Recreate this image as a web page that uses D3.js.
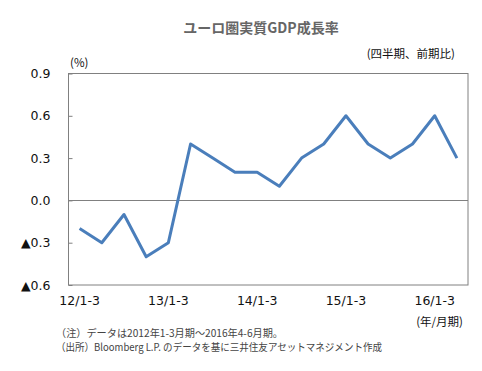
<!DOCTYPE html>
<html><head><meta charset="utf-8">
<script src="https://cdn.jsdelivr.net/npm/d3@7"></script>
<style>
html,body{margin:0;padding:0;background:#fff;}
svg{display:block;}
</style></head>
<body>
<svg id="chart" width="482" height="371"></svg>
<script>
const quarters = ["12/1-3","12/4-6","12/7-9","12/10-12","13/1-3","13/4-6","13/7-9","13/10-12","14/1-3","14/4-6","14/7-9","14/10-12","15/1-3","15/4-6","15/7-9","15/10-12","16/1-3","16/4-6"];
const growth = [-0.2,-0.3,-0.1,-0.4,-0.3,0.4,0.3,0.2,0.2,0.1,0.3,0.4,0.6,0.4,0.3,0.4,0.6,0.3];
const xTickLabels = ["12/1-3","13/1-3","14/1-3","15/1-3","16/1-3"];
const yTicks = [-0.6,-0.3,0,0.3,0.6,0.9];

(function(){
const svg = d3.select("#chart");
const pL = 68.5, pR = 468, pT = 73.5, pB = 285;
const jp = "'Noto Sans CJK JP', 'DejaVu Sans', sans-serif";
const num = "'DejaVu Sans', Verdana, sans-serif";

const x = d3.scaleBand().domain(quarters).range([pL, pR]);
const y = d3.scaleLinear().domain([-0.6, 0.9]).range([pB, pT]);

// frame
svg.append("rect").attr("x", pL).attr("y", pT).attr("width", pR-pL).attr("height", pB-pT)
  .attr("fill", "none").attr("stroke", "#808080").attr("stroke-width", 1);

// zero line
svg.append("line").attr("x1", pL).attr("x2", pR).attr("y1", Math.round(y(0))+0.5).attr("y2", Math.round(y(0))+0.5)
  .attr("stroke", "#808080").attr("stroke-width", 1);

// y axis
const fmt = v => (v < 0 ? "▲" : "") + Math.abs(v).toFixed(1);
const yAxis = d3.axisLeft(y).tickValues(yTicks).tickSize(-4).tickPadding(18).tickFormat(fmt);
const ga = svg.append("g").attr("transform", `translate(${pL},0)`).call(yAxis);
ga.select(".domain").remove();
ga.selectAll(".tick line").attr("stroke", "#808080");
ga.attr("font-family", num).attr("font-size", 12.5);
ga.selectAll(".tick text").attr("fill", "#111");

// x axis labels
const xAxis = d3.axisBottom(x).tickValues(xTickLabels).tickSize(0).tickPadding(11);
const gx = svg.append("g").attr("transform", `translate(0,${pB})`).call(xAxis);
gx.select(".domain").remove();
gx.attr("font-family", num).attr("font-size", 12.5);
gx.selectAll(".tick text").attr("fill", "#111");

// line
const line = d3.line().x((d,i) => x(quarters[i]) + x.bandwidth()/2).y(d => y(d));
svg.append("path").datum(growth).attr("d", line).attr("fill", "none")
  .attr("stroke", "#4A7EBB").attr("stroke-width", 3).attr("stroke-linejoin", "round");

// texts
svg.append("text").attr("x", 261).attr("y", 33).attr("text-anchor", "middle")
  .attr("font-family", jp).attr("font-size", 14).attr("font-weight", "bold").attr("fill", "#666")
  .text("ユーロ圏実質GDP成長率");
svg.append("text").attr("x", 455).attr("y", 58).attr("text-anchor", "end")
  .attr("font-family", jp).attr("font-size", 11.5).attr("fill", "#111").text("(四半期、前期比)");
svg.append("text").attr("x", 70).attr("y", 67)
  .attr("font-family", jp).attr("font-size", 11.5).attr("fill", "#111").text("(%)");
svg.append("text").attr("x", 463).attr("y", 326).attr("text-anchor", "end")
  .attr("font-family", jp).attr("font-size", 11.5).attr("fill", "#111").text("(年/月期)");
svg.append("text").attr("x", 56).attr("y", 337)
  .attr("font-family", jp).attr("font-size", 10.5).attr("fill", "#444")
  .attr("textLength", 227).attr("lengthAdjust", "spacingAndGlyphs")
  .text("（注）データは2012年1-3月期～2016年4-6月期。");
svg.append("text").attr("x", 56).attr("y", 351)
  .attr("font-family", jp).attr("font-size", 10.5).attr("fill", "#444")
  .attr("textLength", 326).attr("lengthAdjust", "spacingAndGlyphs")
  .text("（出所）Bloomberg L.P. のデータを基に三井住友アセットマネジメント作成");
})();
</script>
</body></html>
